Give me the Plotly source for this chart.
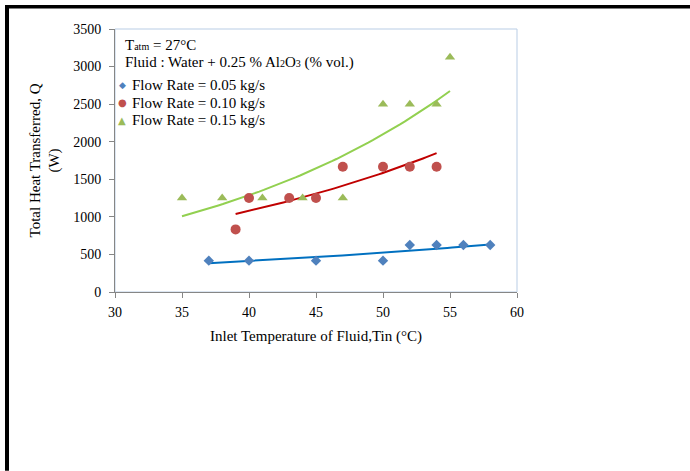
import numpy as np
import plotly.graph_objects as go

# Data
x_005 = [37, 40, 45, 50, 52, 54, 56, 58]
q_005 = [417, 417, 417, 417, 625, 625, 625, 625]
x_010 = [39, 40, 43, 45, 47, 50, 52, 54]
q_010 = [833, 1250, 1250, 1250, 1667, 1667, 1667, 1667]
x_015 = [35, 38, 41, 44, 47, 50, 52, 54, 55]
q_015 = [1250, 1250, 1250, 1250, 1250, 2500, 2500, 2500, 3125]

names = ["Flow Rate = 0.05 kg/s", "Flow Rate = 0.10 kg/s", "Flow Rate = 0.15 kg/s"]
marker_colors = ["#4F81BD", "#C0504D", "#9BBB59"]
line_colors = ["#0070C0", "#C00000", "#92D050"]
symbols = ["diamond", "circle", "triangle-up"]
glyphs = ["◆", "●", "▲"]
sizes = [8, 10, 9]

FONT = "Liberation Serif"

# pixel -> paper helpers (plot area: x 115..517, y 28.7..292)
def px(x):
    return (x - 115) / 402.0

def py(y):
    return (292 - y) / 263.3

fig = go.Figure()

series = [(x_005, q_005), (x_010, q_010), (x_015, q_015)]
# exponential trendlines (least squares on ln Q, as a spreadsheet does)
for (xs, qs), lc in zip(series, line_colors):
    xa = np.array(xs, float)
    b, a = np.polyfit(xa, np.log(np.array(qs, float)), 1)
    xt = np.linspace(xa.min(), xa.max(), 60)
    fig.add_trace(go.Scatter(x=xt, y=np.exp(a + b * xt), mode="lines",
                             line=dict(color=lc, width=2), showlegend=False,
                             hoverinfo="skip"))

for (xs, qs), n, mc, sy, sz in zip(series, names, marker_colors, symbols, sizes):
    fig.add_trace(go.Scatter(x=xs, y=qs, mode="markers", name=n, showlegend=False,
                             marker=dict(color=mc, symbol=sy, size=sz)))

fig.update_layout(
    width=690, height=471,
    margin=dict(l=115, r=173, t=29, b=179),
    paper_bgcolor="white", plot_bgcolor="white",
    font=dict(family=FONT, size=14, color="black"),
    showlegend=False,
    xaxis=dict(range=[30, 60], tickvals=[30, 35, 40, 45, 50, 55, 60],
               showgrid=False, zeroline=False, showline=True, linecolor="#868686",
               linewidth=1, ticks="outside", ticklen=5, tickcolor="#868686",
               ticklabelstandoff=2,
               tickfont=dict(size=14, family=FONT),
               title=dict(text="Inlet Temperature of Fluid,Tin (°C)",
                          font=dict(size=15, family=FONT), standoff=11)),
    yaxis=dict(range=[0, 3500], tickvals=[0, 500, 1000, 1500, 2000, 2500, 3000, 3500],
               showgrid=False, zeroline=False, showline=True, linecolor="#868686",
               linewidth=1, ticks="outside", ticklen=5, tickcolor="#868686",
               ticklabelstandoff=5,
               tickfont=dict(size=14, family=FONT),
               title=dict(text="Total Heat Transferred, Q<br>(W)",
                          font=dict(size=15, family=FONT), standoff=9)),
)

# plot-area border (light blue top/right)
fig.add_shape(type="rect", xref="paper", yref="paper", x0=0, y0=0, x1=1, y1=1,
              line=dict(color="#B9CDE5", width=1), layer="below")

# black page frame (top and left)
fig.add_shape(type="line", xref="paper", yref="paper",
              x0=px(5), x1=px(690), y0=py(6.5), y1=py(6.5),
              line=dict(color="black", width=3.5))
fig.add_shape(type="line", xref="paper", yref="paper",
              x0=px(7), x1=px(7), y0=py(5), y1=py(471),
              line=dict(color="black", width=4))

fig.add_annotation(xref="paper", yref="paper", x=px(123), y=py(45),
                   xanchor="left", yanchor="middle", showarrow=False,
                   text="T<span style='font-size:10px'>atm</span> = 27°C",
                   font=dict(size=15, family=FONT))
fig.add_annotation(xref="paper", yref="paper", x=px(123), y=py(62),
                   xanchor="left", yanchor="middle", showarrow=False,
                   text="Fluid : Water + 0.25 % Al<span style='font-size:10px'>2</span>O<span style='font-size:10px'>3</span> (% vol.)",
                   font=dict(size=15, family=FONT))

# legend (symbol + label)
for i, (n, mc, g) in enumerate(zip(names, marker_colors, glyphs)):
    yy = 85 + i * 17.5
    fig.add_annotation(xref="paper", yref="paper", x=px(122), y=py(yy),
                       xanchor="center", yanchor="middle", showarrow=False,
                       text=g, font=dict(size=9 if i == 0 else 10, family="DejaVu Sans", color=mc))
    fig.add_annotation(xref="paper", yref="paper", x=px(130), y=py(yy),
                       xanchor="left", yanchor="middle", showarrow=False,
                       text=n, font=dict(size=15, family=FONT))

fig.write_html("out.html")
